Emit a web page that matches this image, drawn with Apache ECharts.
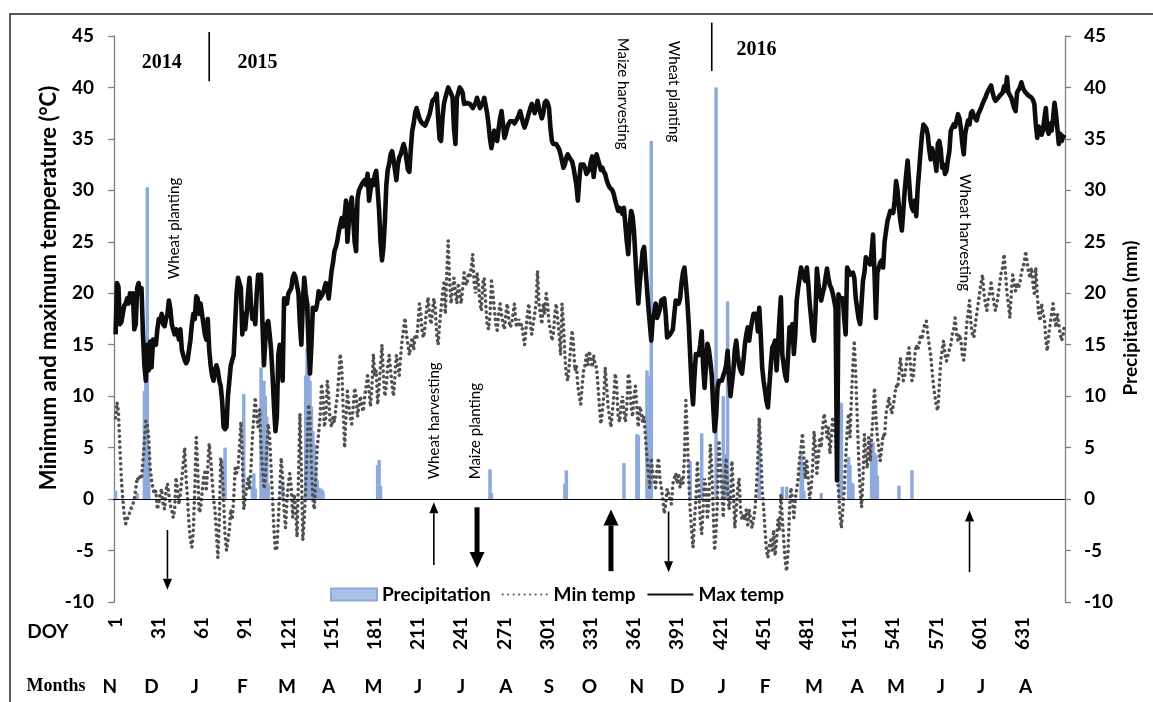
<!DOCTYPE html>
<html>
<head>
<meta charset="utf-8">
<script src="https://cdn.jsdelivr.net/npm/echarts@6/dist/echarts.min.js"></script>
<style>
  html, body { margin: 0; padding: 0; background: #ffffff; }
  #chart { width: 1153px; height: 702px; }
</style>
</head>
<body>
<div id="chart"></div>
<script>
// Day-of-year tick labels shown under the plot
const doyTicks = [1, 31, 61, 91, 121, 151, 181, 211, 241, 271, 301, 331, 361, 391, 421, 451, 481, 511, 541, 571, 601, 631];

// Month initials and the day each one sits under
const monthLabels = ['N', 'D', 'J', 'F', 'M', 'A', 'M', 'J', 'J', 'A', 'S', 'O', 'N', 'D', 'J', 'F', 'M', 'A', 'M', 'J', 'J', 'A'];
const monthDoy = [-3, 26, 56, 89, 120, 149, 180, 211, 241, 272, 302, 330, 363, 391, 422, 452, 486, 516, 543, 574, 602, 633];

// Daily maximum temperature (°C), day 1 onward
const tmax = [
  16, 21, 20.6, 17, 17.2, 18, 18.8, 19, 19.5, 19,
  20, 19.5, 20, 16.5, 17, 20.5, 21, 20, 20.5, 16,
  13, 11.5, 15, 12.5, 15.3, 12.8, 15.5, 15.5, 15, 16.5,
  17.5, 17.3, 18, 17, 16.8, 17.5, 18, 19.3, 18.5, 17,
  16.5, 16, 16.5, 16.2, 15.5, 16.5, 14.5, 14, 13.5, 13.2,
  13.5, 14.5, 15.5, 17, 18, 17.5, 19.7, 19.5, 18, 19,
  18, 17, 16, 15.5, 17.5, 14.5, 13, 12, 11.5, 12.5,
  13, 12.5, 11.5, 11, 9.5, 7, 6.8, 7, 10, 11.5,
  13, 13.5, 14, 14, 20, 21.5, 21, 20.5, 16, 18,
  16.5, 18, 20, 21.5, 19, 17.5, 18, 17, 20, 21.8,
  21.5, 21.8, 17, 13, 15.5, 17, 17.3, 16, 14.5, 12,
  9, 6.6, 8, 14, 15, 13.5, 11.5, 19.5, 19.5, 19,
  20, 20, 20.5, 21.5, 21.9, 21.5, 21.5, 20, 17, 15,
  19, 21.5, 20, 19, 15, 12.2, 15, 18.6, 18.5, 18.4,
  19, 20.2, 19.5, 19.4, 20, 20.5, 21, 20.5, 19.5, 19.5,
  22.2, 23, 24.1, 24.5, 25.1, 26, 26, 27.3, 26.5, 27.5,
  29, 25, 27, 28.5, 29.3, 27.3, 25, 24.1, 29.2, 30,
  30.3, 30.6, 30.5, 31, 30.5, 31.6, 29, 30, 31, 30.5,
  31.5, 31.9, 30, 28, 25, 23.2, 24.5, 27, 30.5, 32,
  32.6, 33.5, 33.8, 33, 32, 31, 32.5, 33.2, 33.5, 34,
  34.5, 34, 33, 32, 31.8, 34, 35.8, 36.5, 37.5, 38,
  37.5, 37, 36.7, 36.5, 36.5, 36.3, 36.2, 37, 37.4, 38,
  38.7, 38.7, 39, 39.4, 37, 35, 34.8, 37, 38.4, 39,
  39.5, 40, 40, 39.4, 39, 36, 34.5, 39, 39.5, 40,
  39.8, 39.5, 38.4, 38.5, 38.5, 38.5, 38.4, 38.2, 38, 37.9,
  38.5, 39, 38.5, 38, 38, 38.5, 39, 39, 37.5, 36.4,
  35, 34.1, 35, 35.8, 35.5, 34.8, 36, 37, 37.7, 36.5,
  35.1, 35.5, 36.1, 36.5, 36.7, 36.7, 36.7, 36.5, 36.4, 37,
  37.3, 37.7, 37.7, 36.5, 36.1, 36.5, 37, 37.5, 38, 38.4,
  38, 37.5, 38, 38.7, 38, 37.5, 37, 37.5, 38.5, 38.7,
  38.5, 38, 36, 34.8, 34.5, 34.6, 34.5, 34.5, 34, 33.5,
  33.5, 32.2, 32.5, 33.2, 33.5, 33.2, 33.2, 32.8, 32.2, 32.2,
  30.5, 29, 31, 32.5, 32.5, 32.5, 32.2, 31.6, 31.6, 32,
  32.8, 33.3, 31.3, 32.5, 33.5, 33.5, 32.5, 32, 32.2, 31.8,
  31.6, 31, 30.6, 30.3, 30.3, 30, 29.6, 29, 28.5, 28,
  28.3, 28, 27.7, 28.3, 28.2, 25, 23.8, 26.5, 28, 27.5,
  26, 23.5, 21, 19, 21, 22.5, 24.1, 24.5, 22.5, 20.5,
  18.6, 17, 15.4, 17.5, 18, 19, 17.6, 18, 18.5, 19.3,
  19.3, 19.5, 18, 15.7, 15.8, 16, 16, 16.5, 18, 19.3,
  19.3, 19, 19.5, 21, 22, 22.5, 21, 19.3, 17, 14,
  11, 9.2, 12, 14.1, 14, 14, 15, 16.3, 13, 10.8,
  13, 15.1, 14.5, 13.4, 12, 9, 6.6, 8, 10.8, 11.5,
  11.5, 11.5, 12, 12.4, 13, 14.4, 12, 10, 9.9, 12.5,
  14.5, 15.4, 14, 13, 12.5, 12.2, 13.5, 15, 16, 16.7,
  15.4, 16.5, 17.3, 18, 18, 18, 16.3, 18.6, 16, 12.8,
  11.5, 10.5, 9.5, 8.9, 11, 13, 14.7, 15, 15.4, 12.5,
  15, 17.5, 19.6, 14, 13, 12, 11.5, 14, 16.7, 16.5,
  17, 14.1, 16, 19.3, 20.5, 21.5, 22.5, 22, 21.5, 21.2,
  22.5, 21, 19, 17.6, 16, 15.4, 18, 22.4, 21, 20,
  19.3, 20, 20.5, 21.5, 22.4, 21.5, 20.8, 20.5, 20, 19.3,
  18.5, 1.8, 19.9, 19.5, 19.5, 19.5, 17.5, 16, 22.5, 22.2,
  21.8, 21.8, 22, 21.5, 19.5, 18.5, 17.5, 17, 19, 21.2,
  22, 23.5, 23.5, 23, 22.8, 24, 25.7, 22, 17.6, 22,
  22.5, 23, 23.2, 22.5, 25, 26, 27, 27.5, 28, 28,
  27.8, 29, 30.9, 30, 28.3, 27, 26.1, 28, 30, 31.5,
  32.9, 31, 29, 28.3, 28, 29, 27.5, 30.2, 31.9, 33.8,
  35.4, 36.4, 36.4, 36, 35.4, 34, 33, 34.1, 33.5, 32.9,
  31.9, 34.5, 34.8, 34, 32.2, 32.5, 31.6, 31.9, 33, 33.8,
  35.8, 36.1, 36.4, 36.2, 36.2, 37.4, 37, 36, 34.5, 33.5,
  35.5, 36.2, 36.8, 36.4, 37.5, 37.7, 37.2, 37, 36.8, 37.4,
  37.5, 38, 38.4, 38.7, 39, 39.4, 39.7, 39.7, 40.2, 39.5,
  39, 38.7, 38.7, 39, 39.2, 39.2, 39.5, 40.1, 39.7, 41,
  39.5, 39.4, 39, 38.5, 38, 37.7, 39.5, 39.5, 40, 40.5,
  40, 39.7, 39.5, 39.5, 39.2, 39.2, 39, 38.8, 38.4, 36.5,
  35.1, 36.2, 36, 35.4, 35.8, 37, 38, 36, 35.5, 36.5,
  35.8, 37, 38.5, 37.5, 36, 34.5, 35.5, 34.8, 35.2, 35.4
];

// Daily minimum temperature (°C), day 1 onward
const tmin = [
  7.9, 9.4, 8.5, 5, 2, 0, -1.5, -2.4, -2, -1.5,
  -1.3, -0.8, -0.5, 0, 1, 2.1, 1.8, 2.2, 2, 3.7,
  5.5, 7.6, 7.2, 6, 3, 1.8, 1, 0.5, 0.8, -1,
  -0.4, 0.5, 1, -0.5, -1, 0.8, 1.5, 0.5, -0.6, -1,
  -1.8, -1, 2.1, 1, -0.5, 0.5, 2, 3.5, 5, 2,
  0, -2.5, -4, -4.7, -3, 1, 6, 3, -1.3, -1,
  0.5, 2, 2.6, 1, 3, 5.4, 4, 2, 0, -1,
  -3.2, -5.7, -2, 4, 3, 0, -3.4, -5, -5, -3,
  -1, -2, 0, 3, 2.5, 3, 5, 7.5, 4, -1,
  -1, 1, 2, 1, 3, 6, 8, 9.9, 8, 7,
  8.7, 5, 3, 1, 2, 5, 7.3, 6, 3, 0,
  -3, -5, -4.8, -2, 1, 4, 2, -1, -2.8, 0,
  1.5, 2.5, 1, -1.8, 0.5, -1, -3.7, 2, 8.3, 3,
  -4, -2, 1, 5, 9.2, 8, 3, 0, -1, 2,
  5, 6.4, 8, 11.2, 10, 7, 8, 11.5, 10, 7.5,
  7, 8, 7.5, 9, 10, 12, 14.1, 13, 9, 5,
  8, 10.5, 9, 8, 7.3, 9, 10.8, 10, 8, 9,
  10, 9, 8.5, 10, 11, 12, 10.5, 9, 11, 14.1,
  12, 12.5, 9.2, 11, 13, 15, 12, 10, 11, 13,
  14, 12.5, 11, 10, 12, 14, 13, 12, 14, 15.5,
  16.5, 17.6, 16, 15, 14, 15, 15.7, 14.5, 16, 15.5,
  17, 19, 18, 16, 15.7, 17, 18.5, 19.6, 18, 17,
  18, 19.5, 18.5, 16, 15, 17, 18.5, 20, 21, 18,
  22, 25.1, 21, 19, 20.5, 21.5, 20, 19, 21, 20,
  19, 20.5, 22, 21, 20.8, 22, 21.5, 22.5, 23.8, 21,
  20, 22, 21, 19, 18.3, 21, 21.5, 19, 17, 16.5,
  18, 21.2, 20, 18.5, 17, 16.4, 18, 19, 18, 17,
  16.5, 18, 19, 17.5, 16.7, 17, 18, 19, 17, 16.7,
  17.5, 16.7, 17, 16, 15, 16.5, 18, 19, 17, 16,
  17, 18, 19, 22.2, 19, 18, 17, 19, 18, 20,
  19, 17, 16.5, 15.4, 16, 18, 19, 17.5, 16, 14,
  19, 17, 14, 12, 11.5, 13, 14.7, 16.4, 15, 12.5,
  13, 11, 10, 9.2, 11, 12.5, 13, 14, 13, 14.4,
  13.5, 12.8, 14, 13, 12.8, 11, 9, 7.3, 8.5, 10,
  12.8, 11, 9, 8, 7, 8.5, 10, 12.2, 11, 8,
  7.5, 9, 10, 8.5, 7.5, 9, 12.2, 11.5, 9, 8,
  10, 11, 8.9, 7, 9, 8.5, 7.5, 8, 6, 4,
  2.5, 1.1, 4, 2.5, 2, 1.1, 3, 4, 2, 1.1,
  0, -1.4, -0.5, 1, 1.1, 0, -0.5, 1.5, 2, 2.5,
  1.5, 2.5, 1.1, 2, 1.5, 4, 9.6, 6.3, 2, -1,
  -3, -4.7, -2, 0, 3.7, 1, -2, -3.4, -1, 2,
  1, -2, 0, 5.3, 3, -1, -5, -3, 0, 5.7,
  3, 1, -1.8, 2, 4, 1, -1, 0, 3.7, 1,
  -2.8, -1, 1, 2, -1, -2, -1.5, -2, -1, -2.5,
  -1, -2, -2.8, -2, -1, 1, 4, 7.9, 5, 1,
  -0.8, -3, -5, -5.7, -4.5, -4, -5, -3, -5.5, -4,
  -2, -3, 0.5, -2, -4, -6, -7, -5, -1, 1.1,
  0, -1.8, 0, 1, 2, 4, 5, 6.4, 4, 2,
  3.7, 2, 0, 1, 3, 6.6, 5, 2.5, 4, 6,
  5, 7, 8.3, 7.5, 6, 7, 4.4, 6, 8, 7,
  6, 3, 0.8, -1.5, -2.8, -1, 1, 4, 6.5, 8.3,
  6, 10, 13, 15.4, 12, 8, 4, 1, -0.8, 2,
  6.3, 4, 3, 6, 3.7, 6, 8, 10.8, 8, 6,
  5, 3.7, 5, 6.3, 6, 8.3, 9, 9.9, 9, 8.3,
  9, 10, 11, 10.8, 12, 13.7, 12.5, 11.5, 12, 13,
  14, 14.7, 13, 11.5, 12, 14, 15, 14.5, 15, 16,
  15.5, 16.5, 17, 17.3, 16, 15, 14, 12.5, 11, 10,
  9, 8.6, 11, 13.4, 14.5, 15.4, 14, 13.4, 14, 14.5,
  15, 16, 16.5, 17.6, 16, 15.4, 16, 15.5, 14, 13.5,
  15, 17, 18, 19.3, 17, 16, 15.7, 17, 18, 19,
  20, 21, 21.8, 20, 19, 18.3, 19.5, 20, 21, 20,
  19, 18.3, 19, 20, 21, 22, 22.5, 23.8, 22, 20,
  19, 17.6, 20, 21.8, 21, 20.2, 21, 20.5, 21, 22,
  22.5, 23, 24.1, 23, 22, 21.5, 22.5, 21, 20, 22.5,
  20, 18, 17.3, 19, 18, 17.6, 15.5, 14.4, 16, 17,
  18, 19, 17.5, 16.7, 18, 17, 16, 15.4, 16, 17
];

// Rain days and amounts (mm)
const precipDoy = [1, 16, 21, 22, 23, 24, 76, 77, 90, 96, 97, 98, 102, 103, 104, 105, 106, 107, 117,
  133, 134, 135, 136, 137, 138, 139, 140, 141, 142, 143, 144, 145, 183, 184, 185, 261, 262, 313, 314,
  354, 363, 364, 370, 371, 372, 373, 400, 408, 418, 423, 424, 426, 448, 464, 467, 477, 478, 479, 491,
  504, 505, 510, 511, 512, 513, 526, 527, 528, 529, 530, 545, 554];
const precipMm = [0.8, 0.6, 10.5, 12, 30.3, 5, 3.8, 5, 10.2, 1.3, 2.5, 1, 12.8, 9, 11.5, 10, 8, 1.5, 1.5,
  12, 14.7, 19, 11.5, 9, 6.6, 5.3, 3, 1.8, 1.1, 1, 1, 0.8, 3.3, 3.8, 1.3, 2.9, 0.6, 1.5, 2.8,
  3.5, 6.3, 6.2, 12.5, 12, 10, 34.8, 3.7, 6.4, 40, 10, 4.4, 19.2, 7.8, 1.2, 1.2, 4.5, 3.4, 0.8, 0.6,
  9.4, 9.3, 4.1, 3.3, 1.6, 1.5, 5.5, 5.5, 4.5, 4.3, 2.3, 1.3, 2.8];

// Field operations: label, day, text height on the temperature scale, reading direction
const eventNotes = [
  { text: 'Wheat planting', doy: 42, at: 26.3, up: true },
  { text: 'Wheat harvesting', doy: 222.5, at: 7.6, up: true },
  { text: 'Maize planting', doy: 251, at: 6.6, up: true },
  { text: 'Maize harvesting', doy: 353, at: 39.4, up: false },
  { text: 'Wheat planting', doy: 389, at: 39.6, up: false },
  { text: 'Wheat harvesting', doy: 591, at: 25.9, up: false }
];
// Arrows below the zero line: day, tail and tip (°C), bold or thin
const eventArrows = [
  { doy: 37, from: -3.0, to: -8.8, bold: false },
  { doy: 222, from: -6.4, to: -0.3, bold: false },
  { doy: 252, from: -0.8, to: -6.7, bold: true },
  { doy: 345, from: -7.0, to: -1.0, bold: true },
  { doy: 385, from: -1.2, to: -7.1, bold: false },
  { doy: 594, from: -7.1, to: -1.1, bold: false }
];
// Season year labels and the dividers between them
const yearLabels = [
  { text: '2014', doy: 33, at: 42.4 },
  { text: '2015', doy: 99.5, at: 42.4 },
  { text: '2016', doy: 446, at: 43.7 }
];
const yearDividers = [
  { doy: 66, from: 45.4, to: 40.6 },
  { doy: 415, from: 46.3, to: 41.6 }
];

const SANS = 'Lato, "Noto Sans", sans-serif';
const SERIF = '"Liberation Serif", "DejaVu Serif", serif';

const chart = echarts.init(document.getElementById('chart'), null, { renderer: 'canvas' });

const maxData = tmax.map((v, i) => [i + 1, v]);
const minData = tmin.map((v, i) => [i + 1, v]);
const rainData = precipDoy.map((d, i) => [d, precipMm[i]]);

const yAxisCommon = {
  type: 'value', min: -10, max: 45, interval: 5,
  axisLine: { show: true, lineStyle: { color: '#7f7f7f', width: 1.3 } },
  axisTick: { show: true, length: 6, lineStyle: { color: '#7f7f7f', width: 1.3 } },
  splitLine: { show: false },
  axisLabel: { color: '#000', fontFamily: SANS, fontWeight: 'bold', fontSize: 19, margin: 19 }
};

const hiddenMarker = { color: 'rgba(0,0,0,0)', opacity: 0, borderWidth: 0 };

chart.setOption({
  animation: false,
  backgroundColor: '#ffffff',
  grid: { left: 113, right: 88, top: 36, bottom: 100, containLabel: false },
  legend: {
    left: 325, top: 580, itemWidth: 46, itemHeight: 12, itemGap: 11,
    textStyle: { color: '#000', fontFamily: SANS, fontWeight: 'bold', fontSize: 19 },
    data: [
      { name: 'Precipitation', icon: 'rect', itemStyle: { color: '#a9bfe6', borderColor: '#8eaadb', borderWidth: 2 } },
      { name: 'Min temp', itemStyle: hiddenMarker },
      { name: 'Max temp', itemStyle: hiddenMarker }
    ]
  },
  xAxis: {
    type: 'value', min: -0.8, max: 660.3,
    axisLine: { show: false }, axisTick: { show: false }, splitLine: { show: false },
    axisLabel: {
      customValues: doyTicks, rotate: 90, margin: 15,
      color: '#000', fontFamily: SANS, fontWeight: 'bold', fontSize: 19
    }
  },
  yAxis: [
    Object.assign({}, yAxisCommon, { position: 'left' }),
    Object.assign({}, yAxisCommon, { position: 'right' })
  ],
  series: [
    {
      name: 'Precipitation', type: 'bar', yAxisIndex: 1, data: rainData,
      barWidth: 3.5, barGap: '-100%',
      itemStyle: { color: '#8eaadb' }, z: 1
    },
    {
      name: 'Min temp', type: 'line', yAxisIndex: 0, data: minData,
      symbol: 'none', smooth: false,
      lineStyle: { color: '#505050', width: 3.6, type: [0.1, 5.4], cap: 'round' }, z: 2
    },
    {
      name: 'Max temp', type: 'line', yAxisIndex: 0, data: maxData,
      symbol: 'none', smooth: false,
      lineStyle: { color: '#0d0d0d', width: 4.6, join: 'round' }, z: 3,
      markLine: {
        silent: true, symbol: ['none', 'none'], label: { show: false },
        lineStyle: { color: '#000', width: 1, type: 'solid' },
        data: [{ yAxis: 0 }]
      }
    }
  ]
});

function px(doy, val) {
  return chart.convertToPixel({ xAxisIndex: 0, yAxisIndex: 0 }, [doy, val]);
}

const gfx = [];
// outer frame
gfx.push({ type: 'rect', shape: { x: 10, y: 14, width: 1200, height: 760 }, style: { fill: 'none', stroke: '#222', lineWidth: 1.5 }, silent: true, z: 0 });

// axis titles
gfx.push({ type: 'text', x: 49, y: 288, rotation: Math.PI / 2,
  style: { text: 'Minimum and maximum temperature (°C)', fontFamily: SANS, fontWeight: 'bold', fontSize: 22, fill: '#000', align: 'center', verticalAlign: 'middle' } });
gfx.push({ type: 'text', x: 1131, y: 318, rotation: Math.PI / 2,
  style: { text: 'Precipitation (mm)', fontFamily: SANS, fontWeight: 'bold', fontSize: 19, fill: '#000', align: 'center', verticalAlign: 'middle' } });

// row titles under the axis
gfx.push({ type: 'text', x: 48, y: 632, style: { text: 'DOY', fontFamily: SANS, fontWeight: 'bold', fontSize: 19, fill: '#000', align: 'center', verticalAlign: 'middle' } });
gfx.push({ type: 'text', x: 56, y: 686, style: { text: 'Months', fontFamily: SERIF, fontWeight: 'bold', fontSize: 18, fill: '#000', align: 'center', verticalAlign: 'middle' } });
monthLabels.forEach((m, i) => {
  const p = px(monthDoy[i], 0);
  gfx.push({ type: 'text', x: p[0], y: 687, style: { text: m, fontFamily: SANS, fontWeight: 'bold', fontSize: 19, fill: '#000', align: 'center', verticalAlign: 'middle' } });
});

// years
yearLabels.forEach(y => {
  const p = px(y.doy, y.at);
  gfx.push({ type: 'text', x: p[0], y: p[1], style: { text: y.text, fontFamily: SERIF, fontWeight: 'bold', fontSize: 20, fill: '#000', align: 'center', verticalAlign: 'middle' } });
});
yearDividers.forEach(d => {
  const a = px(d.doy, d.from), b = px(d.doy, d.to);
  gfx.push({ type: 'line', shape: { x1: a[0], y1: a[1], x2: b[0], y2: b[1] }, style: { stroke: '#000', lineWidth: 1.6 } });
});

// field operation labels
eventNotes.forEach(n => {
  const p = px(n.doy, n.at);
  gfx.push({ type: 'text', x: p[0], y: p[1], rotation: n.up ? Math.PI / 2 : -Math.PI / 2,
    style: { text: n.text, fontFamily: SANS, fontSize: 15, fill: '#000', align: 'center', verticalAlign: 'middle' } });
});

// arrows
eventArrows.forEach(a => {
  const t = px(a.doy, a.from), h = px(a.doy, a.to);
  const dir = h[1] > t[1] ? 1 : -1;
  const headLen = a.bold ? 16 : 11;
  const headHalf = a.bold ? 7.5 : 4.5;
  const shaftW = a.bold ? 5 : 1.6;
  const baseY = h[1] - dir * headLen;
  gfx.push({ type: 'line', shape: { x1: t[0], y1: t[1], x2: h[0], y2: baseY }, style: { stroke: '#000', lineWidth: shaftW } });
  gfx.push({ type: 'polygon', shape: { points: [[h[0], h[1]], [h[0] - headHalf, baseY], [h[0] + headHalf, baseY]] }, style: { fill: '#000' } });
});

chart.setOption({ graphic: gfx });
</script>
</body>
</html>
